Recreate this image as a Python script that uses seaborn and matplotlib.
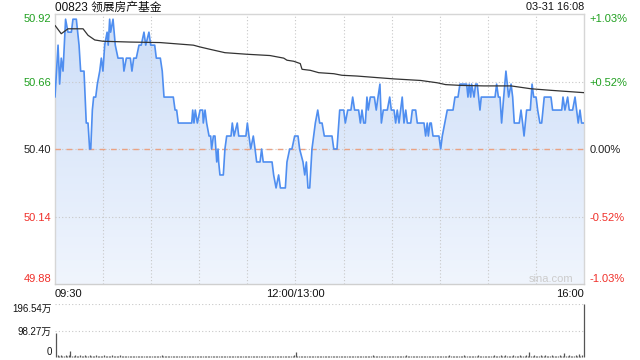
import numpy as np
import pandas as pd
import matplotlib
matplotlib.use("Agg")
import matplotlib.pyplot as plt
import seaborn as sns
from matplotlib.colors import LinearSegmentedColormap

# ---------------- data ----------------
title = "00823 领展房产基金"
stamp = "03-31 16:08"
watermark = "sina.com"
prev_close = 50.40
price_ticks = [49.88, 50.14, 50.40, 50.66, 50.92]
price_tick_labels = ["49.88", "50.14", "50.40", "50.66", "50.92"]
pct_tick_labels = ["-1.03%", "-0.52%", "0.00%", "+0.52%", "+1.03%"]
tick_colors = ["#f0302a", "#f0302a", "#222222", "#20a020", "#20a020"]
time_ticks = [0, 150, 330]
time_labels = ["09:30", "12:00/13:00", "16:00"]
grid_minutes = [30, 60, 90, 120, 150, 180, 210, 240, 270, 300]

# price trace: minutes since 09:30 (lunch removed) and price
price_minute = [
    0, 1.9, 2.9, 3.9, 5, 6.6, 8.1, 10.2, 11.2, 13.3,
    15, 16, 18.1, 19.5, 20.6, 21.6, 22.3, 23.3, 24.1, 25.4,
    26.4, 27.9, 28.9, 29.9, 31, 32.5, 33.2, 34.1, 34.7, 36.2,
    37.6, 39.3, 42.4, 43, 44.5, 47, 48, 49.1, 50.7, 52.4,
    53.8, 55.5, 56.6, 58.6, 59.7, 62.2, 63.2, 65.7, 66.9, 68,
    73.8, 74.9, 75.9, 76.9, 85.3, 85.9, 86.7, 87.5, 88.8, 90.5,
    92.1, 92.5, 93.6, 94.6, 96.1, 97.1, 97.7, 98.8, 99.8, 100.9,
    101.7, 102.1, 102.9, 105, 106, 107.1, 109.8, 110.6, 111.7, 113.7,
    114.6, 119.1, 120, 121, 122.1, 123.7, 124.8, 125.8, 127.9, 128.9,
    129.9, 135.4, 136.4, 137.9, 139.5, 140.6, 143.7, 144.7, 146.4, 147.8,
    149.5, 151.6, 152.6, 154.7, 155.8, 156.8, 157.8, 158.9, 160.3, 162.4,
    163.9, 165.1, 166.6, 168, 172.8, 173.9, 175.9, 177.6, 180.1, 181.1,
    182.6, 184.6, 185.7, 186.9, 189.4, 190.5, 191.5, 192.6, 193.6, 194.6,
    195.4, 196.7, 199.2, 200.4, 201.5, 202.7, 203.6, 204.8, 207.3, 208.8,
    209.8, 211.5, 212.5, 213.5, 214.6, 216.6, 217.7, 218.8, 219.8, 221.9,
    222.9, 225, 226, 230.2, 231.2, 232.2, 232.9, 233.9, 234.7, 235.8,
    239.5, 240.6, 241.6, 244.7, 248.3, 249.5, 251.4, 252.6, 256.8, 257.6,
    258.4, 259.3, 259.9, 261.4, 262.4, 263.4, 265.1, 265.9, 274.5, 275.5,
    276.6, 277.6, 278.6, 279.9, 281.3, 283, 284.5, 285.5, 286.5, 289.6,
    290.7, 291.7, 292.6, 294.2, 296.5, 297.6, 298.6, 300.1, 301.1, 302.5,
    303.6, 305.2, 309.4, 310.4, 316.1, 316.9, 318.1, 319.8, 320.8, 322.9,
    324.4, 325.4, 326.4, 327.5, 328.5, 330,
]
price_value = [
    50.60, 50.80, 50.65, 50.75, 50.70, 50.90, 50.85, 50.85, 50.90, 50.90,
    50.80, 50.70, 50.70, 50.50, 50.50, 50.40, 50.40, 50.55, 50.60, 50.60,
    50.65, 50.70, 50.75, 50.70, 50.80, 50.85, 50.80, 50.90, 50.85, 50.90,
    50.80, 50.75, 50.75, 50.70, 50.75, 50.75, 50.70, 50.75, 50.75, 50.80,
    50.80, 50.85, 50.80, 50.85, 50.80, 50.80, 50.75, 50.75, 50.70, 50.60,
    50.60, 50.55, 50.55, 50.50, 50.50, 50.55, 50.50, 50.55, 50.50, 50.55,
    50.55, 50.50, 50.55, 50.50, 50.45, 50.45, 50.40, 50.45, 50.45, 50.35,
    50.40, 50.35, 50.30, 50.30, 50.40, 50.45, 50.45, 50.50, 50.45, 50.50,
    50.45, 50.45, 50.50, 50.45, 50.40, 50.45, 50.40, 50.35, 50.35, 50.40,
    50.35, 50.35, 50.30, 50.25, 50.30, 50.25, 50.25, 50.35, 50.40, 50.40,
    50.45, 50.45, 50.40, 50.35, 50.30, 50.35, 50.25, 50.25, 50.40, 50.50,
    50.55, 50.50, 50.50, 50.45, 50.45, 50.40, 50.40, 50.55, 50.55, 50.50,
    50.55, 50.55, 50.60, 50.55, 50.55, 50.50, 50.55, 50.50, 50.50, 50.60,
    50.55, 50.60, 50.60, 50.55, 50.60, 50.65, 50.50, 50.55, 50.55, 50.60,
    50.55, 50.55, 50.50, 50.55, 50.50, 50.60, 50.50, 50.55, 50.50, 50.50,
    50.55, 50.55, 50.50, 50.50, 50.45, 50.50, 50.45, 50.50, 50.50, 50.45,
    50.45, 50.40, 50.45, 50.55, 50.55, 50.60, 50.60, 50.65, 50.65, 50.60,
    50.65, 50.60, 50.65, 50.60, 50.65, 50.65, 50.55, 50.60, 50.60, 50.65,
    50.60, 50.60, 50.50, 50.60, 50.70, 50.60, 50.65, 50.60, 50.50, 50.50,
    50.55, 50.50, 50.45, 50.55, 50.55, 50.65, 50.60, 50.60, 50.55, 50.50,
    50.50, 50.60, 50.60, 50.55, 50.55, 50.60, 50.55, 50.60, 50.55, 50.55,
    50.60, 50.55, 50.50, 50.55, 50.50, 50.50,
]

# average-price line
avg_minute = [0, 3.9, 8.1, 17.5, 20.6, 24.8, 29.9, 46.6, 65.5, 86.3,
              90.5, 96.7, 106, 119.6, 134.1, 142.7, 144.7, 148.9, 153, 154.1,
              159.3, 164.5, 173.9, 179, 188.4, 200.9, 211.5, 228.1, 238.5, 243.7,
              253.1, 267.6, 284.5, 296.9, 309.4, 330]
avg_value = [50.876, 50.844, 50.863, 50.863, 50.838, 50.820, 50.815, 50.812, 50.810, 50.800,
             50.793, 50.784, 50.771, 50.765, 50.760, 50.750, 50.742, 50.738, 50.729, 50.707,
             50.703, 50.694, 50.690, 50.684, 50.681, 50.675, 50.670, 50.664, 50.655, 50.648,
             50.645, 50.643, 50.643, 50.632, 50.626, 50.617]

# volume (万 shares) per minute
volume = [
    90, 6, 4, 8, 5, 3, 7, 4, 9, 22, 5, 4, 6, 3, 5, 7, 4, 3, 6, 5, 4, 8, 3, 5, 4, 6, 3, 4, 5, 3,
    6, 4, 3, 5, 4, 7, 3, 4, 5, 3, 6, 4, 3, 2, 4, 5, 3, 4, 2, 3, 5, 4, 3, 2, 4, 3, 5, 2, 3, 4,
    3, 5, 4, 2, 3, 4, 6, 3, 2, 4, 3, 5, 3, 2, 4, 3, 2, 5, 3, 4, 2, 3, 4, 2, 3, 5, 2, 3, 4, 2,
    3, 4, 2, 3, 5, 3, 2, 4, 3, 2, 4, 3, 5, 2, 3, 4, 2, 3, 2, 4, 3, 2, 3, 4, 2, 3, 5, 2, 3, 4,
    2, 3, 4, 2, 3, 2, 4, 3, 2, 5, 3, 2, 4, 3, 2, 3, 4, 2, 3, 2, 4, 3, 2, 3, 5, 2, 3, 4, 3, 6,
    18, 5, 3, 4, 2, 3, 4, 3, 2, 5, 3, 4, 2, 3, 4, 2, 5, 3, 2, 4, 3, 2, 3, 4, 2, 3, 5, 2, 3, 4,
    3, 2, 4, 3, 5, 2, 3, 4, 2, 3, 4, 2, 5, 3, 2, 4, 3, 2, 6, 3, 4, 2, 3, 5, 2, 3, 4, 2, 3, 4,
    2, 3, 5, 2, 3, 4, 2, 3, 4, 6, 2, 3, 4, 2, 3, 5, 2, 3, 4, 3, 2, 4, 3, 5, 2, 3, 4, 2, 3, 5,
    4, 3, 5, 2, 3, 4, 6, 3, 2, 4, 3, 5, 2, 3, 4, 7, 3, 2, 4, 3, 5, 3, 4, 2, 6, 3, 4, 3, 5, 2,
    4, 3, 5, 3, 6, 4, 3, 5, 8, 3, 4, 6, 3, 5, 4, 3, 6, 4, 5, 3, 9, 4, 5, 3, 6, 4, 19, 5, 4, 6,
    3, 5, 4, 6, 3, 4, 7, 5, 3, 4, 6, 3, 5, 4, 3, 6, 5, 4, 15, 5, 4, 6, 3, 5, 4, 6, 5, 12, 4, 6,
    196.54,
]
vol_minute = list(range(len(volume)))
vol_ticks = [0, 98.27, 196.54]
vol_tick_labels = ["0", "98.27万", "196.54万"]

assert len(price_minute) == len(price_value)
assert len(avg_minute) == len(avg_value)

# ---------------- style ----------------
sns.set_style("white")
plt.rcParams["font.family"] = ["Liberation Sans", "Noto Sans CJK SC", "DejaVu Sans"]

W, H = 640, 360
fig = plt.figure(figsize=(W / 100, H / 100), dpi=100)
L, R = 55, 584
ax = fig.add_axes([L / W, 1 - 284 / H, (R - L) / W, 270 / H])
axv = fig.add_axes([L / W, 1 - 357 / H, (R - L) / W, 53 / H])

ymin, ymax = price_ticks[0], price_ticks[-1]
grid_kw = dict(color="#c8c8c8", lw=0.8, ls=(0, (1, 2)), zorder=3)

df_price = pd.DataFrame({"minute": price_minute, "price": price_value})
df_avg = pd.DataFrame({"minute": avg_minute, "avg": avg_value})

# gradient fill under price
poly = ax.fill_between(df_price["minute"], df_price["price"], ymin,
                       facecolor="none", edgecolor="none")
cmap = LinearSegmentedColormap.from_list("g", ["#f0f5fd", "#cddef8"])
grad = np.linspace(0, 1, 256).reshape(-1, 1)
img = ax.imshow(grad, extent=[0, 330, ymin, ymax], origin="lower", cmap=cmap,
                aspect="auto", zorder=2)
img.set_clip_path(poly.get_paths()[0], transform=ax.transData)

# grid (drawn over the fill)
for m in grid_minutes:
    ax.axvline(m, **grid_kw)
for t in price_ticks[1:-1]:
    ax.axhline(t, **grid_kw)
ax.axhline(prev_close, color="#eba283", lw=1.0, ls=(0, (4, 4)), zorder=3.5)

sns.lineplot(data=df_price, x="minute", y="price", ax=ax, color="#4f8ef0",
             lw=1.2, estimator=None, sort=False, zorder=4)
sns.lineplot(data=df_avg, x="minute", y="avg", ax=ax, color="#333333",
             lw=0.9, estimator=None, sort=False, zorder=5)

ax.set_xlim(0, 330)
ax.set_ylim(ymin, ymax)
ax.set_xlabel("")
ax.set_ylabel("")
for s in ax.spines.values():
    s.set_color("#d6d6d6")
    s.set_linewidth(1)
    s.set_visible(True)
ax.spines["bottom"].set_color("#cfcfcf")

# left ticks
ax.set_yticks(price_ticks)
ax.set_yticklabels(price_tick_labels)
ax.tick_params(axis="y", length=0, pad=2.5, labelsize=8)
for lab, c in zip(ax.get_yticklabels(), tick_colors):
    lab.set_color(c)
ylabs = ax.get_yticklabels()
ylabs[0].set_va("bottom")
ylabs[-1].set_va("top")

# x ticks
ax.set_xticks(time_ticks)
ax.set_xticklabels(time_labels)
ax.tick_params(axis="x", length=0, pad=3.5, labelsize=8, labelcolor="#111111")
xlabs = ax.get_xticklabels()
xlabs[0].set_ha("left")
xlabs[-1].set_ha("right")

# right percent axis
axr = ax.twinx()
axr.set_ylim(ymin, ymax)
axr.set_yticks(price_ticks)
axr.set_yticklabels(pct_tick_labels)
axr.tick_params(axis="y", length=0, pad=4, labelsize=8)
for s in axr.spines.values():
    s.set_visible(False)
rlabs = axr.get_yticklabels()
for lab, c in zip(rlabs, tick_colors):
    lab.set_color(c)
rlabs[0].set_va("bottom")
rlabs[-1].set_va("top")

ax.text((573 - L) / (R - L), 0.018, watermark, transform=ax.transAxes,
        ha="right", va="center", fontsize=8, color="#cccccc", zorder=6)

# titles
fig.text(L / W, 1 - 7.5 / H, title, ha="left", va="center", fontsize=8.5, color="#111111")
fig.text(R / W, 1 - 7 / H, stamp, ha="right", va="center", fontsize=7.8, color="#111111")

# ---------------- volume ----------------
for t in vol_ticks[1:]:
    axv.axhline(t, **grid_kw)
axv.vlines(vol_minute, 0, volume, colors="#555555", linewidth=0.9, zorder=4,
           clip_on=False)
axv.set_xlim(-0.6, 330.2)
axv.set_ylim(0, vol_ticks[-1])
axv.set_xticks([])
axv.set_yticks(vol_ticks)
axv.set_yticklabels(vol_tick_labels)
axv.tick_params(axis="y", length=0, pad=2.5, labelsize=7, labelcolor="#111111")
vlabs = axv.get_yticklabels()
vlabs[0].set_va("bottom")
vlabs[-1].set_va("top")
for s in axv.spines.values():
    s.set_visible(False)

fig.savefig("out.png", dpi=100)
